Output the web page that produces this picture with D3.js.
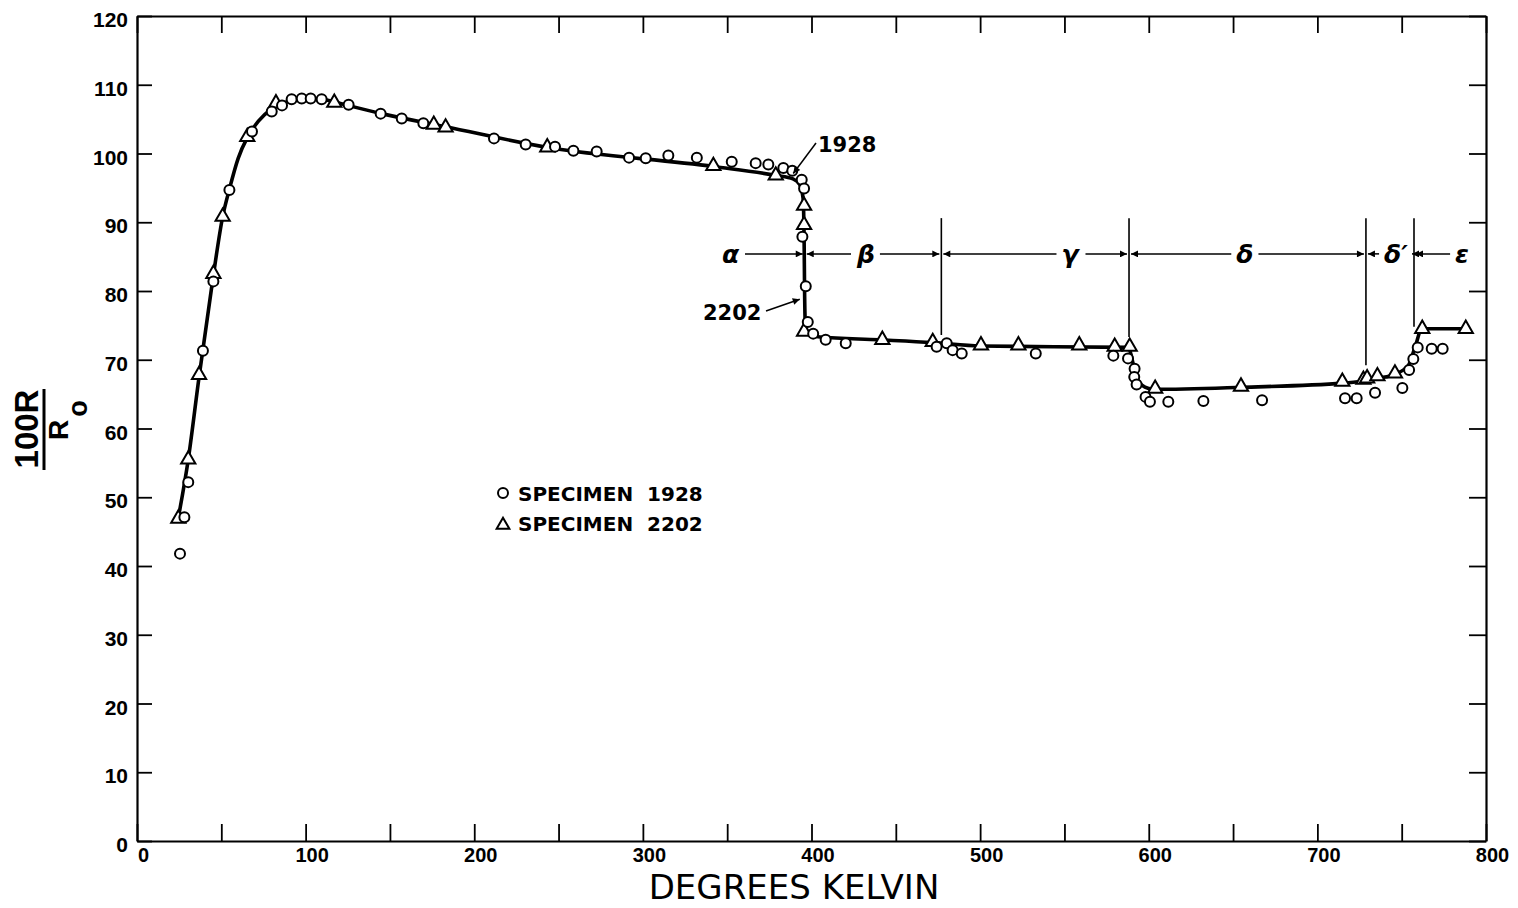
<!DOCTYPE html>
<html><head><meta charset="utf-8">
<script src="https://cdn.jsdelivr.net/npm/d3@7"></script>
<style>
html,body{margin:0;padding:0;background:#fff;}
svg{display:block;}
</style></head>
<body>
<svg id="chart" width="1518" height="908"></svg>
<script>
// ---- data ----
const xTicks = [0,50,100,150,200,250,300,350,400,450,500,550,600,650,700,750,800];
const yTicks = [0,10,20,30,40,50,60,70,80,90,100,110,120];

// Specimen 1928 (circles): temperature K, 100R/R0
const spec1928K = [25.5,28.1,30.4,39.1,45.3,54.8,68.2,79.9,86,91.7,97.7,103,109.5,125.5,144.5,157,169.8,211.7,230.5,247.9,258.8,272.6,291.8,301.7,315.1,332,352.7,366.9,374.4,383.3,388.6,394.2,395.6,394.6,396.6,397.8,401,408.4,420.3,474.2,480.2,483.7,489.1,533,579,587.7,591.6,591.4,592.8,598.1,600.7,611.6,632.4,667.2,716.4,723.3,734.2,750.4,754.4,756.9,759.5,767.8,774.3];
const spec1928R = [41.8,47.1,52.2,71.3,81.4,94.7,103.2,106.1,107.0,107.9,108.0,108.0,107.9,107.1,105.8,105.1,104.4,102.2,101.3,101.0,100.4,100.3,99.4,99.3,99.7,99.4,98.8,98.6,98.4,97.9,97.5,96.2,94.9,87.9,80.7,75.5,73.8,72.9,72.4,71.9,72.4,71.4,70.9,70.9,70.6,70.2,68.7,67.5,66.4,64.6,63.9,63.9,64.0,64.1,64.4,64.4,65.2,65.9,68.5,70.1,71.8,71.6,71.6];

// Specimen 2202 (triangles)
const spec2202K = [24.5,30.4,36.8,45.3,50.8,65.4,82.4,117,176,183,243.3,341.8,378.8,395.6,395.6,395.6,442,471.9,500.5,522.7,558.8,579.8,588.7,603.8,654.7,714.8,727.3,729.5,735.6,746,762.2,788];
const spec2202R = [46.9,55.5,67.8,82.5,90.8,102.4,107.3,107.4,104.2,103.8,100.9,98.2,96.8,92.4,89.6,74.1,72.9,72.6,72.1,72.1,72.1,71.9,71.9,65.8,66.1,66.8,67.1,67.3,67.6,68.0,74.5,74.5];

// Smooth curve drawn through the data
const curveK = [24.5,30.4,36.8,45,50.8,55,60,65.4,72,80,90,100,110,117,125,145,183,243,342,379,389,393,395,395.6,395.9,396.3,397.5,405,440,472,500,588,590,592,596,603,655,715,728,736,746,754,758,762,788];
const curveR = [47,55.5,67.5,81.8,90.8,95,99.3,102.3,104.7,106.5,107.6,108,107.9,107.5,107.0,105.8,103.9,100.9,98.1,96.8,96.3,95.5,93.5,88,80,75.5,74.0,73.3,72.9,72.5,72.0,71.8,70.2,68,66.3,65.7,66.0,66.6,66.9,67.3,67.9,69.2,71.9,74.5,74.5];

// Phase regions
const phaseNames = ["α","β","γ","δ","δ′","ε"];
const phaseLabelK = [352,432.3,553.3,657,746.6,785.8];
const phaseBoundK = [396,477,588.3,728.8,757.3];          // boundaries between phases
const phaseLineTopR = 90.6;                                // top of boundary lines
const phaseLineBottomR = [null,73.6,73.3,69.2,74.8];        // bottom of boundary lines
const phaseArrowR = 85.4;

const legendLabels = ["SPECIMEN  1928","SPECIMEN  2202"];

// ---- drawing ----
const svg = d3.select("#chart");
const x = d3.scaleLinear().domain([0,800]).range([137,1486]);
const y = d3.scaleLinear().domain([0,120]).range([841,16]);
const tickFont = "'Liberation Sans', Arial, sans-serif";

svg.append("defs").append("marker")
  .attr("id","ah").attr("viewBox","0 0 10 10").attr("refX",10).attr("refY",5)
  .attr("markerWidth",9).attr("markerHeight",7).attr("markerUnits","userSpaceOnUse")
  .attr("orient","auto")
  .append("path").attr("d","M0,0 L10,5 L0,10 Z").attr("fill","#000");

function styleAxis(g){
  g.select(".domain").attr("stroke","#000").attr("stroke-width",2.2);
  g.selectAll(".tick line").attr("stroke","#000").attr("stroke-width",1.8);
  g.selectAll(".tick text").attr("fill","#000")
    .style("font-family",tickFont).style("font-weight","bold").style("font-size","21px");
}

svg.append("g").attr("transform","translate(0,841)")
  .call(d3.axisBottom(x).tickValues(xTicks).tickSize(-17).tickSizeOuter(0).tickPadding(7)
    .tickFormat(d => d % 100 === 0 ? d : ""))
  .call(styleAxis)
  .call(g => g.selectAll(".tick text").attr("dx",6).style("font-size","20px"));

svg.append("g").attr("transform","translate(0,16)")
  .call(d3.axisTop(x).tickValues(xTicks).tickSize(-17).tickSizeOuter(0).tickFormat(""))
  .call(styleAxis);

svg.append("g").attr("transform","translate(137,0)")
  .call(d3.axisLeft(y).tickValues(yTicks).tickSize(-15).tickSizeOuter(0).tickPadding(9))
  .call(styleAxis)
  .call(g => g.selectAll(".tick text").attr("dy","0.5em"));

svg.append("g").attr("transform","translate(1486,0)")
  .call(d3.axisRight(y).tickValues(yTicks).tickSize(-17).tickSizeOuter(0).tickFormat(""))
  .call(styleAxis);

// axis titles
svg.append("text").attr("x",794).attr("y",899).attr("text-anchor","middle")
  .style("font-family","'DejaVu Sans', sans-serif").style("font-size","34px")
  .text("DEGREES KELVIN");

const yl = svg.append("g").attr("transform","translate(0,429) rotate(-90)");
yl.append("text").attr("x",0).attr("y",38).attr("text-anchor","middle")
  .style("font-family",tickFont).style("font-weight","bold").style("font-size","33px")
  .text("100R");
yl.append("line").attr("x1",-41).attr("x2",40).attr("y1",44).attr("y2",44)
  .attr("stroke","#000").attr("stroke-width",3);
const den = yl.append("text").attr("x",-11).attr("y",68)
  .style("font-family",tickFont).style("font-weight","bold").style("font-size","28px");
den.append("tspan").text("R");
den.append("tspan").attr("dx",3).attr("dy",19).style("font-size","27px").text("o");

// phase boundaries and arrows
const pg = svg.append("g");
phaseBoundK.forEach((k,i) => {
  if (phaseLineBottomR[i] == null) return;
  pg.append("line").attr("x1",x(k)).attr("x2",x(k))
    .attr("y1",y(phaseLineTopR)).attr("y2",y(phaseLineBottomR[i]))
    .attr("stroke","#000").attr("stroke-width",1.6);
});
phaseNames.forEach((name,i) => {
  const t = pg.append("text").attr("x",x(phaseLabelK[i])).attr("y",y(phaseArrowR)+9)
    .attr("text-anchor","middle")
    .style("font-family","'DejaVu Sans', sans-serif").style("font-style","italic")
    .style("font-weight","bold").style("font-size","25px").text(name);
  const bb = t.node().getBBox();
  const ay = y(phaseArrowR);
  if (i > 0) {
    pg.append("line").attr("x1",bb.x-5).attr("x2",x(phaseBoundK[i-1])+2)
      .attr("y1",ay).attr("y2",ay).attr("stroke","#000").attr("stroke-width",1.5)
      .attr("marker-end","url(#ah)");
  }
  if (i < phaseBoundK.length) {
    pg.append("line").attr("x1",bb.x+bb.width+5).attr("x2",x(phaseBoundK[i])-2)
      .attr("y1",ay).attr("y2",ay).attr("stroke","#000").attr("stroke-width",1.5)
      .attr("marker-end","url(#ah)");
  }
});

// curve
const line = d3.line().x((d,i)=>x(curveK[i])).y((d,i)=>y(curveR[i])).curve(d3.curveMonotoneX);
svg.append("path").datum(curveK).attr("d",line)
  .attr("fill","none").attr("stroke","#000").attr("stroke-width",3.6)
  .attr("stroke-linejoin","round");

// markers
const tri = d3.symbol().type(d3.symbolTriangle).size(88);
svg.append("g").selectAll("path").data(spec2202K).join("path")
  .attr("d",tri).attr("transform",(d,i)=>`translate(${x(d)},${y(spec2202R[i])})`)
  .attr("fill","#fff").attr("stroke","#000").attr("stroke-width",2);
svg.append("g").selectAll("circle").data(spec1928K).join("circle")
  .attr("cx",d=>x(d)).attr("cy",(d,i)=>y(spec1928R[i])).attr("r",5)
  .attr("fill","#fff").attr("stroke","#000").attr("stroke-width",2);

// annotations
const annFont = "'DejaVu Sans', sans-serif";
svg.append("text").attr("x",818).attr("y",152)
  .style("font-family",annFont).style("font-weight","bold").style("font-size","21px").text("1928");
svg.append("line").attr("x1",816).attr("y1",143).attr("x2",x(388)+2).attr("y2",y(96.8)-2)
  .attr("stroke","#000").attr("stroke-width",1.5).attr("marker-end","url(#ah)");
svg.append("text").attr("x",703).attr("y",320)
  .style("font-family",annFont).style("font-weight","bold").style("font-size","21px").text("2202");
svg.append("line").attr("x1",766).attr("y1",311).attr("x2",x(396)-5).attr("y2",y(78.8))
  .attr("stroke","#000").attr("stroke-width",1.5).attr("marker-end","url(#ah)");

// legend
const lg = svg.append("g");
lg.append("circle").attr("cx",503).attr("cy",493).attr("r",5)
  .attr("fill","#fff").attr("stroke","#000").attr("stroke-width",2);
lg.append("path").attr("d",d3.symbol().type(d3.symbolTriangle).size(70))
  .attr("transform","translate(503,525)")
  .attr("fill","#fff").attr("stroke","#000").attr("stroke-width",2);
legendLabels.forEach((t,i)=>{
  lg.append("text").attr("x",518).attr("y",501+i*30).attr("xml:space","preserve")
    .style("white-space","pre")
    .style("font-family",annFont).style("font-weight","bold").style("font-size","20px").text(t);
});
</script>
</body></html>
